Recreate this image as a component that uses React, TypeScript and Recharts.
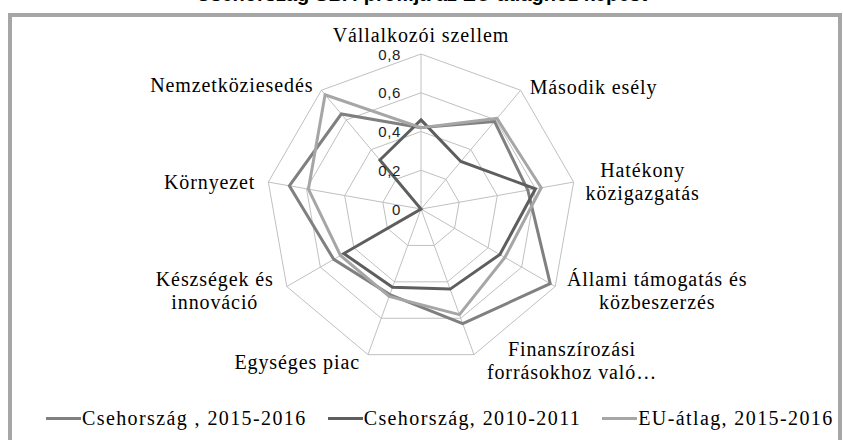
import React from "react"
import { RadarChart, Radar, PolarGrid, PolarAngleAxis, PolarRadiusAxis, Legend } from "recharts"

const categories = [
  "Vállalkozói szellem",
  "Második esély",
  "Hatékony közigazgatás",
  "Állami támogatás és közbeszerzés",
  "Finanszírozási forrásokhoz való…",
  "Egységes piac",
  "Készségek és innováció",
  "Környezet",
  "Nemzetköziesedés",
]
const categoryLines = [
  ["Vállalkozói szellem"],
  ["Második esély"],
  ["Hatékony", "közigazgatás"],
  ["Állami támogatás és", "közbeszerzés"],
  ["Finanszírozási", "forrásokhoz való…"],
  ["Egységes piac"],
  ["Készségek és", "innováció"],
  ["Környezet"],
  ["Nemzetköziesedés"],
]
const cz2016 = [0.42, 0.59, 0.56, 0.77, 0.63, 0.47, 0.52, 0.69, 0.64]
const cz2011 = [0.46, 0.32, 0.6, 0.47, 0.44, 0.43, 0.46, null, 0.33]
const eu2016 = [0.42, 0.61, 0.63, 0.5, 0.58, 0.48, 0.48, 0.59, 0.77]
const radiusTicks = [0, 0.2, 0.4, 0.6, 0.8]
const seriesNames = ["Csehország , 2015-2016", "Csehország, 2010-2011", "EU-átlag, 2015-2016"]
const seriesColors = ["#808080", "#5e5e5e", "#a6a6a6"]

const data = categories.map((c, i) => ({ name: c, cz2016: cz2016[i], cz2011: cz2011[i], eu2016: eu2016[i] }))

const CX = 421
const CY = 209
const R = 155
const serif = "'Liberation Serif', 'Times New Roman', serif"

// where each category label sits relative to its outer vertex
const labelPlace: Record<number, { anchor: "start" | "middle" | "end"; dx: number; dy: number }> = {
  0: { anchor: "middle", dx: 0, dy: -19 },
  1: { anchor: "start", dx: 9, dy: -3 },
  2: { anchor: "middle", dx: 69, dy: -12 },
  3: { anchor: "middle", dx: 102, dy: -8 },
  4: { anchor: "middle", dx: 98, dy: -6 },
  5: { anchor: "end", dx: -8, dy: 7 },
  6: { anchor: "middle", dx: -72, dy: -8 },
  7: { anchor: "end", dx: -13, dy: 0 },
  8: { anchor: "end", dx: -8, dy: -5 },
}

const AngleTick = (props: any) => {
  const i = categories.indexOf(props.payload.value)
  const ang = (90 - i * 40) * Math.PI / 180
  const vx = CX + R * Math.cos(ang)
  const vy = CY - R * Math.sin(ang)
  const p = labelPlace[i]
  return (
    <text x={vx + p.dx} y={vy + p.dy} textAnchor={p.anchor} fontFamily={serif} fontSize={20} letterSpacing={0.9} fill="#000">
      {categoryLines[i].map((l, k) => (
        <tspan key={k} x={vx + p.dx} dy={k === 0 ? 0 : 23} dominantBaseline="central">{l}</tspan>
      ))}
    </text>
  )
}

const RadiusTick = (props: any) => {
  const label = String(props.payload.value).replace(".", ",")
  return (
    <text x={CX - 20} y={props.y} textAnchor="end" dominantBaseline="central"
      fontFamily="'Liberation Sans', Arial, sans-serif" fontSize={15} letterSpacing={0.6} fill="#222">
      {label}
    </text>
  )
}

// open polyline: starts after the missing value and wraps around to the point before it
const GapShape = (props: any) => {
  const pts = props.points || []
  const n = pts.length
  let start = 0
  for (let i = 0; i < n; i++) {
    if (!Number.isFinite(pts[i].x)) start = (i + 1) % n
  }
  let d = ""
  let pen = false
  for (let k = 0; k < n; k++) {
    const p = pts[(start + k) % n]
    if (!Number.isFinite(p.x)) { pen = false; continue }
    d += `${pen ? "L" : "M"}${p.x},${p.y}`
    pen = true
  }
  if (pts.every((p: any) => Number.isFinite(p.x))) d += "Z"
  return <path d={d} fill="none" stroke={props.stroke} strokeWidth={3} />
}

const LegendContent = () => (
  <div style={{ display: "flex", fontFamily: serif, fontSize: 20, letterSpacing: 1.4, color: "#000", lineHeight: "22px", whiteSpace: "nowrap" }}>
    {seriesNames.map((n, i) => (
      <div key={n} style={{ display: "flex", alignItems: "center", marginRight: 21 }}>
        <div style={{ width: 35, height: 3, background: seriesColors[i], marginRight: 1 }} />
        <span>{n}</span>
      </div>
    ))}
  </div>
)

export default function App() {
  return (
    <div style={{ position: "fixed", left: 0, top: 0, width: 843, height: 440, background: "#fff", overflow: "hidden" }}>
      <div style={{ position: "absolute", left: 0, top: -17, width: 843, textAlign: "center", fontFamily: "'Liberation Sans', Arial, sans-serif", fontWeight: "bold", fontSize: 20, whiteSpace: "nowrap" }}>
        Csehország SBA-profilja az EU-átlaghoz képest
      </div>
      <div style={{ position: "absolute", left: 8, top: 13, width: 826, height: 440, border: "4px solid #a6a6a6" }} />
      <div style={{ position: "absolute", left: 0, top: 0 }}>
        <RadarChart width={843} height={440} data={data} cx={CX} cy={CY} outerRadius={R} startAngle={90} endAngle={-270}
          margin={{ top: 0, right: 0, bottom: 0, left: 0 }}>
          <PolarGrid gridType="polygon" stroke="#c0c0c0" strokeWidth={1} />
          <PolarAngleAxis dataKey="name" tick={<AngleTick />} tickLine={false} axisLine={false} />
          <PolarRadiusAxis angle={90} type="number" domain={[0, 0.8]} allowDecimals allowDataOverflow ticks={radiusTicks as any} tickCount={5}
            axisLine={false} tick={<RadiusTick />} />
          <Radar name={seriesNames[0]} dataKey="cz2016" stroke={seriesColors[0]} strokeWidth={3} fill="none" isAnimationActive={false} />
          <Radar name={seriesNames[1]} dataKey="cz2011" stroke={seriesColors[1]} strokeWidth={3} fill="none" isAnimationActive={false}
            shape={<GapShape />} />
          <Radar name={seriesNames[2]} dataKey="eu2016" stroke={seriesColors[2]} strokeWidth={3} fill="none" isAnimationActive={false} />
          <Legend content={<LegendContent />} wrapperStyle={{ left: 46, top: 407, width: 800, bottom: "auto" }} />
        </RadarChart>
      </div>
    </div>
  )
}
